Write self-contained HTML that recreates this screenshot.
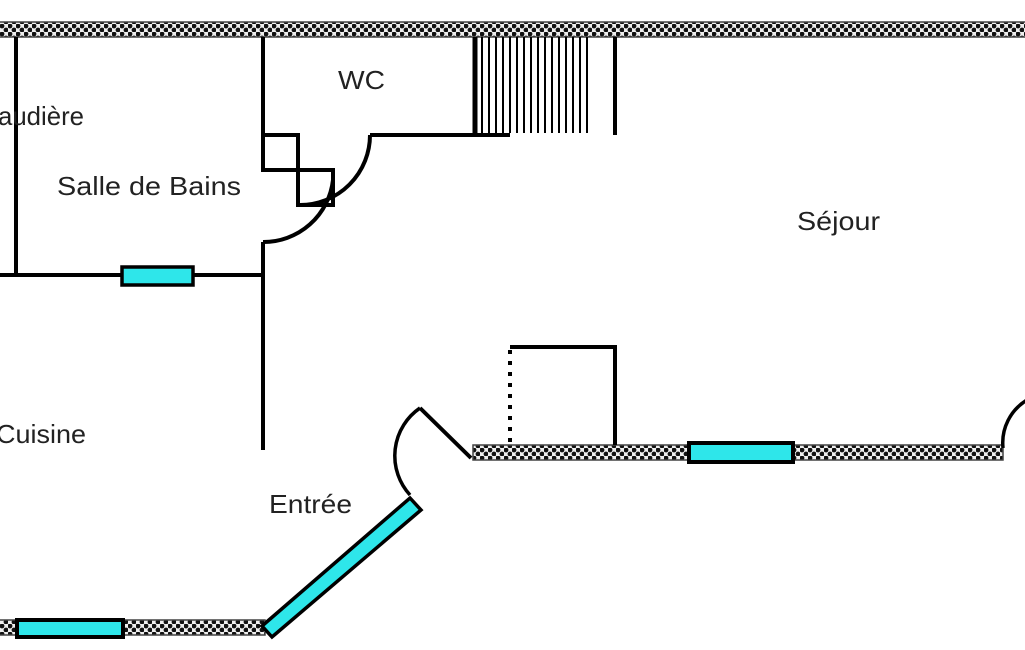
<!DOCTYPE html>
<html><head><meta charset="utf-8"><style>
html,body{margin:0;padding:0;background:#fff;width:1025px;height:650px;overflow:hidden}
text{font-family:"Liberation Sans",sans-serif;font-size:26px;fill:#222}
</style></head><body>
<svg width="1025" height="650" viewBox="0 0 1025 650" xmlns="http://www.w3.org/2000/svg">
<defs>
<pattern id="chk" width="8" height="8" patternUnits="userSpaceOnUse">
<rect width="8" height="8" fill="#eee"/>
<circle cx="2" cy="2" r="2.4" fill="#111"/>
<circle cx="6" cy="6" r="2.4" fill="#111"/>
</pattern>
</defs>
<g stroke="#000" stroke-width="4" fill="none">
<rect x="-2" y="22" width="1030" height="15" fill="url(#chk)" stroke="#444" stroke-width="1.5"/>
<rect x="473" y="445" width="530" height="15" fill="url(#chk)" stroke="#444" stroke-width="1.5"/>
<rect x="-2" y="620" width="267" height="15" fill="url(#chk)" stroke="#444" stroke-width="1.5"/>
<rect x="689" y="443" width="104" height="19" fill="#2ee6ea"/>
<rect x="17" y="620" width="106" height="17" fill="#2ee6ea"/>
<rect x="122" y="267" width="71" height="18" fill="#2ee6ea" stroke-width="3.5"/>
<polygon points="262,626 410,498 421,510 272,637" fill="#2ee6ea" stroke-width="3.5"/>
<line x1="16" y1="37" x2="16" y2="275"/>
<line x1="0" y1="275" x2="122" y2="275"/>
<line x1="193" y1="275" x2="263" y2="275"/>
<line x1="263" y1="37" x2="263" y2="135"/>
<line x1="263" y1="242" x2="263" y2="450"/>
<rect x="263" y="135" width="35" height="35"/>
<rect x="298" y="170" width="35" height="35"/>
<path d="M370,135 A70,70 0 0 1 300,205"/>
<path d="M333,180 A70,70 0 0 1 263,242"/>
<line x1="370" y1="135" x2="510" y2="135"/>
<line x1="475" y1="37" x2="475" y2="135" stroke-width="5"/>
<line x1="615" y1="37" x2="615" y2="135"/>
<g stroke-width="2">
<line x1="482" y1="37" x2="482" y2="133"/><line x1="489" y1="37" x2="489" y2="133"/>
<line x1="496" y1="37" x2="496" y2="133"/><line x1="503" y1="37" x2="503" y2="133"/>
<line x1="510" y1="37" x2="510" y2="133"/><line x1="517" y1="37" x2="517" y2="133"/>
<line x1="524" y1="37" x2="524" y2="133"/><line x1="531" y1="37" x2="531" y2="133"/>
<line x1="538" y1="37" x2="538" y2="133"/><line x1="545" y1="37" x2="545" y2="133"/>
<line x1="552" y1="37" x2="552" y2="133"/><line x1="559" y1="37" x2="559" y2="133"/>
<line x1="566" y1="37" x2="566" y2="133"/><line x1="573" y1="37" x2="573" y2="133"/>
<line x1="580" y1="37" x2="580" y2="133"/><line x1="587" y1="37" x2="587" y2="133"/>
</g>
<polyline points="510,347 615,347 615,445"/>
<line x1="510" y1="350" x2="510" y2="445" stroke-dasharray="4,7"/>
<polyline points="471,458 420,408"/>
<path d="M420,408 A58,58 0 0 0 410,495" stroke-width="3.5"/>
<path d="M1003,448 A50,50 0 0 1 1027,400" stroke-width="3.5"/>
</g>
<text x="-2" y="125" textLength="86" lengthAdjust="spacingAndGlyphs">audière</text>
<text x="57" y="195" textLength="184" lengthAdjust="spacingAndGlyphs">Salle de Bains</text>
<text x="338" y="89" textLength="47" lengthAdjust="spacingAndGlyphs">WC</text>
<text x="797" y="230" textLength="83" lengthAdjust="spacingAndGlyphs">Séjour</text>
<text x="-4" y="443" textLength="90" lengthAdjust="spacingAndGlyphs">Cuisine</text>
<text x="269" y="513" textLength="83" lengthAdjust="spacingAndGlyphs">Entrée</text>
</svg>
</body></html>
